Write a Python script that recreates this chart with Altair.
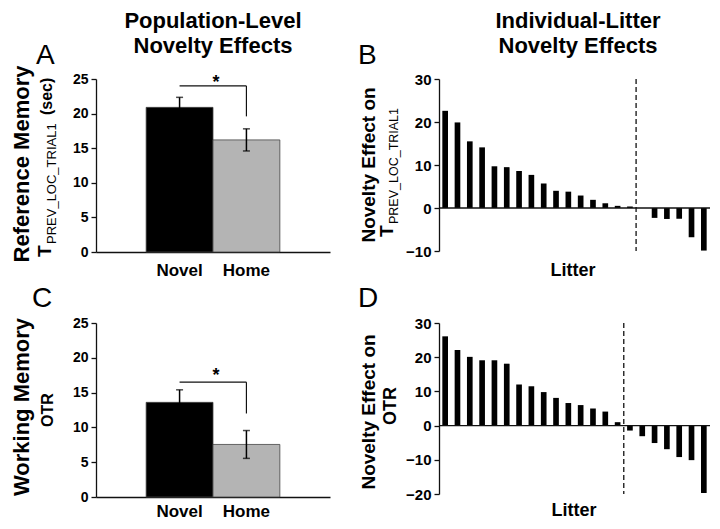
import altair as alt
import pandas as pd

FONT = "Liberation Sans"

# ---------------- data ----------------
groups = ["Novel", "Home"]
bar_colors = ["#000000", "#b4b4b4"]

ref_mean = [20.9, 16.2]
ref_err = [1.45, 1.6]
ref_bracket = [24.0, 19.6]

work_mean = [13.6, 7.55]
work_err = [1.8, 2.0]
work_bracket = [16.5, 12.0]

pop_ticks = [0, 5, 10, 15, 20, 25]

ref_litter = [22.6, 19.9, 15.5, 14.1, 9.7, 9.5, 8.6, 7.7, 5.7, 4.0, 3.8,
              2.9, 1.9, 1.1, 0.5, 0.35, 0.0, -2.3, -2.55, -2.5, -6.8, -9.9]
ref_split = 15.5
ref_ticks = [-10, 0, 10, 20, 30]

work_litter = [26.1, 22.1, 20.1, 19.1, 19.1, 18.1, 12.0, 11.5, 9.8, 8.1, 6.6,
               6.0, 5.0, 4.1, 1.0, -1.45, -3.1, -5.1, -6.9, -9.2, -10.1, -19.7]
work_split = 14.5
work_ticks = [-20, -10, 0, 10, 20, 30]

col_titles = [["Population-Level", "Novelty Effects"], ["Individual-Litter", "Novelty Effects"]]
row_titles = ["Reference Memory", "Working Memory"]
letters = ["A", "B", "C", "D"]
subscript = "PREV_LOC_TRIAL1"

W, H = 704, 513


def y_axis(offset, values, size):
    return alt.Axis(orient="left", offset=offset, values=values, title=None, grid=False,
                    domainColor="#111", domainWidth=1.3, tickColor="#111", tickWidth=1.3,
                    tickSize=5, labelFont=FONT, labelFontSize=size, labelFontWeight="bold",
                    labelColor="black", labelPadding=3)


def pop_panel(means, errs, bracket, xr, yr, x_off, y_off, lab_pad):
    df = pd.DataFrame({"g": groups, "m": means, "e": errs})
    df["lo"] = df["m"] - df["e"]
    df["hi"] = df["m"] + df["e"]

    def xs():
        return alt.Scale(domain=groups, range=xr, paddingInner=0, paddingOuter=0.75)

    def ys():
        return alt.Scale(domain=[0, 25], range=yr, nice=False, zero=False)

    xax = alt.Axis(orient="bottom", offset=x_off, title=None, ticks=False, grid=False,
                   labelAngle=0, labelFont=FONT, labelFontSize=17, labelFontWeight="bold",
                   labelColor="black", labelPadding=lab_pad, domainColor="#111",
                   domainWidth=1.3, labelOverlap=False)
    base = alt.Chart(df)
    bars = base.mark_bar(stroke="#444", strokeWidth=0.8).encode(
        x=alt.X("g:N", scale=xs(), sort=groups, axis=xax),
        y=alt.Y("m:Q", scale=ys(), axis=y_axis(y_off, pop_ticks, 14)),
        y2=alt.Y2Datum(0),
        color=alt.Color("g:N", scale=alt.Scale(domain=groups, range=bar_colors), legend=None),
    )
    err = base.mark_rule(color="black", strokeWidth=1.5).encode(
        x=alt.X("g:N", scale=xs(), sort=groups, axis=None),
        y=alt.Y("lo:Q", scale=ys(), axis=None), y2="hi:Q")
    cap_hi = base.mark_tick(color="black", thickness=1.5, size=7).encode(
        x=alt.X("g:N", scale=xs(), sort=groups, axis=None),
        y=alt.Y("hi:Q", scale=ys(), axis=None))
    cap_lo = base.mark_tick(color="black", thickness=1.5, size=7).encode(
        x=alt.X("g:N", scale=xs(), sort=groups, axis=None),
        y=alt.Y("lo:Q", scale=ys(), axis=None))
    bdf = pd.DataFrame({"a": [groups[0]], "b": [groups[1]],
                        "top": [bracket[0]], "end": [bracket[1]]})
    hline = alt.Chart(bdf).mark_rule(color="#111", strokeWidth=1.2).encode(
        x=alt.X("a:N", scale=xs(), axis=None), x2="b:N",
        y=alt.Y("top:Q", scale=ys(), axis=None))
    vline = alt.Chart(bdf).mark_rule(color="#111", strokeWidth=1.2).encode(
        x=alt.X("b:N", scale=xs(), axis=None),
        y=alt.Y("top:Q", scale=ys(), axis=None), y2="end:Q")
    return [bars, err, cap_hi, cap_lo, hline, vline]


def litter_panel(vals, split, ticks, xr, yr, y_off):
    n = len(vals)
    df = pd.DataFrame({"i": list(range(n)), "v": vals})

    def xs():
        return alt.Scale(domain=[-0.5, n - 0.5], range=xr, nice=False, zero=False)

    def ys():
        return alt.Scale(domain=[min(ticks), max(ticks)], range=yr, nice=False, zero=False)

    bars = alt.Chart(df).transform_calculate(
        a="datum.i - 0.23", b="datum.i + 0.23"
    ).mark_bar(color="black").encode(
        x=alt.X("a:Q", scale=xs(), axis=None), x2="b:Q",
        y=alt.Y("v:Q", scale=ys(), axis=y_axis(y_off, ticks, 15)),
        y2=alt.Y2Datum(0),
    )
    sdf = pd.DataFrame({"s": [split]})
    zero = alt.Chart(sdf).mark_rule(color="#111", strokeWidth=1.3).encode(
        x=alt.XDatum(-0.5, scale=xs(), axis=None), x2=alt.X2Datum(n - 0.5),
        y=alt.YDatum(0, scale=ys(), axis=None))
    dash = alt.Chart(sdf).mark_rule(color="#111", strokeWidth=1.3, strokeDash=[5, 3]).encode(
        x=alt.X("s:Q", scale=xs(), axis=None),
        y=alt.YDatum(max(ticks), scale=ys(), axis=None), y2=alt.Y2Datum(min(ticks)))
    return [bars, zero, dash]


def txt(text, x, y, size, weight="bold", angle=0, align="center"):
    return alt.Chart(pd.DataFrame({"t": [text]})).mark_text(
        font=FONT, fontSize=size, fontWeight=weight, angle=angle, align=align,
        baseline="alphabetic", color="black"
    ).encode(x=alt.value(x), y=alt.value(y), text="t:N")


panelA = pop_panel(ref_mean, ref_err, ref_bracket, [88, 322], [244, 71], 244 - H, -88, 10)
panelC = pop_panel(work_mean, work_err, work_bracket, [88, 322], [489, 315], 489 - H, -88, 6)
panelB = litter_panel(ref_litter, ref_split, ref_ticks, [431, 702], [243, 71], -431)
panelD = litter_panel(work_litter, work_split, work_ticks, [431, 702], [486, 315], -431)

texts = [
    txt(col_titles[0][0], 205, 20, 22), txt(col_titles[0][1], 205, 45, 22),
    txt(col_titles[1][0], 570, 20, 22), txt(col_titles[1][1], 570, 45, 22),
    txt(letters[0], 28, 56, 28, "normal", align="left"),
    txt(letters[1], 350, 56, 28, "normal", align="left"),
    txt(letters[2], 24, 299, 28, "normal", align="left"),
    txt(letters[3], 350, 299, 28, "normal", align="left"),
    txt(row_titles[0], 21, 156, 22, angle=270),
    txt(row_titles[1], 21, 399, 22, angle=270),
    # panel A y title
    txt("T", 43, 249, 19, angle=270, align="left"),
    txt(subscript, 47.5, 236, 13, "normal", angle=270, align="left"),
    txt("(sec)", 43.5, 107, 16, angle=270, align="left"),
    # panel C y title
    txt("OTR", 45, 402, 16, angle=270),
    # panel B y title
    txt("Novelty Effect on", 367, 157, 19, angle=270),
    txt("T", 385, 229, 19, angle=270, align="left"),
    txt(subscript, 389.5, 216, 12.5, "normal", angle=270, align="left"),
    # panel D y title
    txt("Novelty Effect on", 367, 404, 19, angle=270),
    txt("OTR", 388, 398, 18, angle=270),
    # x titles
    txt("Litter", 565, 268, 18),
    txt("Litter", 566, 508, 18),
    # significance stars
    txt("*", 208, 80, 18),
    txt("*", 208, 372.5, 18),
]

chart = alt.layer(*panelA, *panelB, *panelC, *panelD, *texts).resolve_scale(
    x="independent", y="independent"
).resolve_axis(
    x="independent", y="independent"
).properties(
    width=W, height=H, padding=0,
    autosize=alt.AutoSizeParams(type="none"),
    background="white",
).configure_view(stroke=None)

chart.save("out.html", embed_options={"renderer": "svg", "actions": False})
